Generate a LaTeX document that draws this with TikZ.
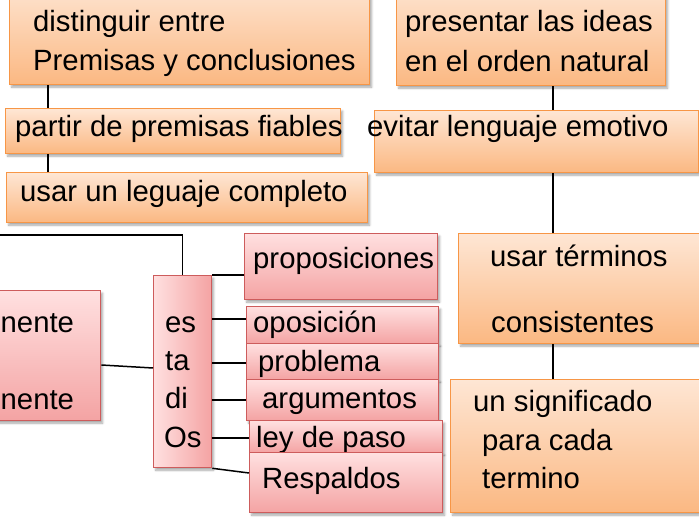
\documentclass[tikz,border=0pt]{standalone}
\usepackage{fontspec}
\setmainfont{Liberation Sans}
\usetikzlibrary{shadows.blur,calc}
\definecolor{oTop}{HTML}{FEE6D4}
\definecolor{oBot}{HTML}{FBB882}
\definecolor{oLine}{HTML}{F79646}
\definecolor{rTop}{HTML}{FFE0E0}
\definecolor{rBot}{HTML}{F4A3A3}
\definecolor{rLine}{HTML}{CD5C5C}
\tikzset{
  shad/.style={blur shadow={shadow xshift=2pt, shadow yshift=-2.5pt, shadow blur steps=6, shadow opacity=35}},
  obox/.style={shad, draw=oLine, line width=1.3pt, top color=oTop, bottom color=oBot, anchor=north west, inner sep=0pt},
  rbox/.style={shad, draw=rLine, line width=1.3pt, top color=rTop, bottom color=rBot, anchor=north west, inner sep=0pt},
  vbox/.style={shad, draw=rLine, line width=1.3pt, left color=rTop, right color=rBot, anchor=north west, inner sep=0pt},
  txt/.style={anchor=base west, inner sep=0pt, font=\fontsize{29.3}{35}\selectfont},
  conn/.style={line width=1.5pt, black}
}
\begin{document}
\begin{tikzpicture}[x=1pt,y=-1pt]
\useasboundingbox (0,0) rectangle (699,518);
\clip (0,0) rectangle (699,518);
% orange boxes
\node[obox, minimum width=360pt, minimum height=104pt] (A) at (9,-20) {};
\node[txt] (A1) at (33,32) {distinguir entre};
\node[txt] (A2) at (33,71) {Premisas y conclusiones};
\node[obox, minimum width=335pt, minimum height=45pt] (B) at (5,108) {};
\node[txt] (B1) at (15,137) {partir de premisas fiables};
\node[obox, minimum width=361pt, minimum height=50pt] (C) at (6,172) {};
\node[txt] (C1) at (20,202) {usar un leguaje completo};
\node[obox, minimum width=269pt, minimum height=105pt] (D) at (396,-20) {};
\node[txt] (D1) at (405,32) {presentar las ideas};
\node[txt] (D2) at (405,72) {en el orden natural};
\node[obox, minimum width=324pt, minimum height=62pt] (E) at (374,110) {};
\node[txt] (E1) at (367,137) {evitar lenguaje emotivo};
\node[obox, minimum width=260pt, minimum height=110pt] (F) at (458,233) {};
\node[txt] (F1) at (490,267) {usar términos};
\node[txt] (F2) at (491,333) {consistentes};
\node[obox, minimum width=270pt, minimum height=133pt] (G) at (450,379) {};
\node[txt] (G1) at (473,412) {un significado};
\node[txt] (G2) at (482,450) {para cada};
\node[txt] (G3) at (482,488) {termino};
% red boxes
\node[rbox, minimum width=125pt, minimum height=130pt] (H) at (-25,290) {};
\node[txt] (H1) at (0.5,333) {nente};
\node[txt] (H2) at (0.5,410) {nente};
\node[vbox, minimum width=58pt, minimum height=192pt] (I) at (153,275) {};
\node[txt] (I1) at (165,333) {es};
\node[txt] (I2) at (165,371) {ta};
\node[txt] (I3) at (165,409) {di};
\node[txt] (I4) at (164,447) {Os};
\node[rbox, minimum width=193pt, minimum height=66pt] (J) at (244,233) {};
\node[txt] (J1) at (253,269) {proposiciones};
\node[rbox, minimum width=192pt, minimum height=37pt] (K) at (246,306) {};
\node[txt] (K1) at (253,333) {oposición};
\node[rbox, minimum width=192pt, minimum height=36pt] (L) at (246,343) {};
\node[txt] (L1) at (258,372) {problema};
\node[rbox, minimum width=192pt, minimum height=41pt] (M) at (246,379) {};
\node[txt] (M1) at (262,409) {argumentos};
\node[rbox, minimum width=193pt, minimum height=32pt] (N) at (249,420) {};
\node[txt] (N1) at (256,447) {ley de paso};
\node[rbox, minimum width=193pt, minimum height=60pt] (O) at (249,452) {};
\node[txt] (O1) at (262,488) {Respaldos};
% connectors
\coordinate (offL) at (-5,235);
\draw[conn] ($(A.south west)+(39,0)$) -- ($(B.north west)+(43,0)$);
\draw[conn] ($(B.south west)+(43,0)$) -- ($(C.north west)+(42,0)$);
\draw[conn] ($(D.south west)+(157,0)$) -- ($(E.north west)+(179,0)$);
\draw[conn] ($(E.south west)+(179,0)$) -- ($(F.north west)+(95,0)$);
\draw[conn] ($(F.south west)+(95,0)$) -- ($(G.north west)+(103,0)$);
\draw[conn] ($(H.north east)+(0,75)$) -- ($(I.north west)+(0,93)$);
\draw[conn] (I.north) |- (offL);
\draw[conn] (I.north east) -- ($(J.north west)+(0,42)$);
\draw[conn] ($(I.north east)+(0,44)$) -- ($(K.north west)+(0,13)$);
\draw[conn] ($(I.north east)+(0,88)$) -- ($(L.north west)+(0,20)$);
\draw[conn] ($(I.north east)+(0,125)$) -- ($(M.north west)+(0,21)$);
\draw[conn] ($(I.north east)+(0,163)$) -- ($(N.north west)+(0,18)$);
\draw[conn] (I.south east) -- ($(O.north west)+(0,21)$);
\end{tikzpicture}
\end{document}
